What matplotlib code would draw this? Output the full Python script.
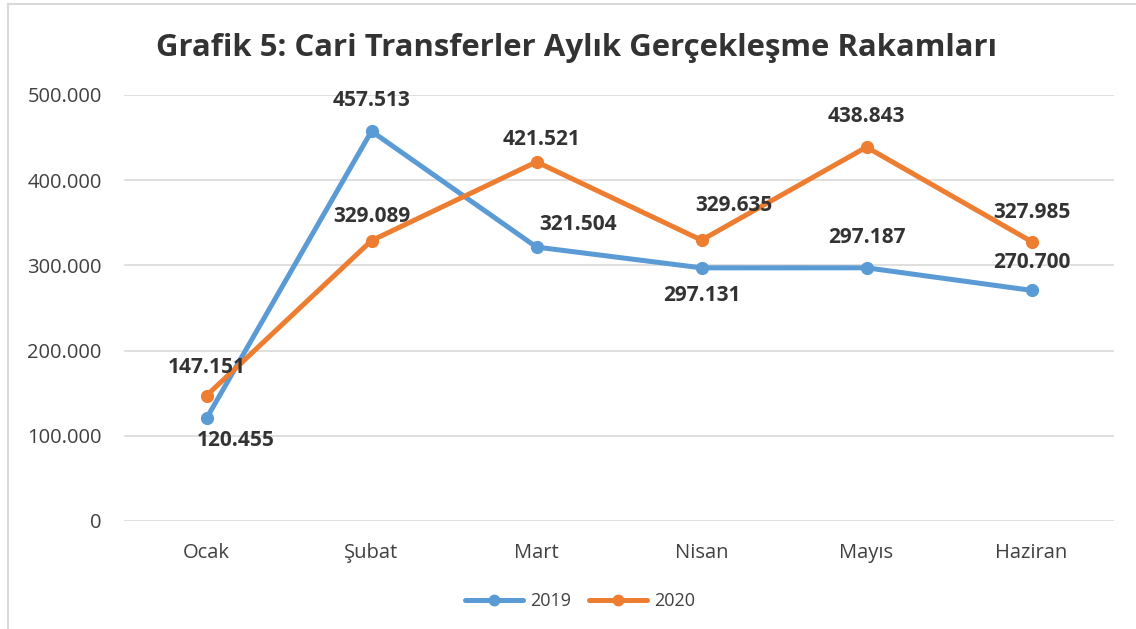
import matplotlib
matplotlib.use("Agg")
import matplotlib.pyplot as plt
from matplotlib.lines import Line2D

months = ["Ocak", "Şubat", "Mart", "Nisan", "Mayıs", "Haziran"]
values_2019 = [120455, 457513, 321504, 297131, 297187, 270700]
values_2020 = [147151, 329089, 421521, 329635, 438843, 327985]
labels_2019 = ["120.455", "457.513", "321.504", "297.131", "297.187", "270.700"]
labels_2020 = ["147.151", "329.089", "421.521", "329.635", "438.843", "327.985"]
yticks = [0, 100000, 200000, 300000, 400000, 500000]
ytick_labels = ["0", "100.000", "200.000", "300.000", "400.000", "500.000"]
title = "Grafik 5: Cari Transferler Aylık Gerçekleşme Rakamları"

plt.rcParams['font.family'] = ['Open Sans', 'DejaVu Sans']

blue = "#5B9BD5"
orange = "#ED7D31"
text_c = "#404040"
dark = "#333333"

fig = plt.figure(figsize=(11.36, 6.29), dpi=100)
ax = fig.add_axes([124/1136, 1-521/629, 990/1136, 426/629])

x = list(range(len(months)))
ax.plot(x, values_2019, color=blue, lw=3.6, marker="o", ms=8.5, solid_capstyle="round", zorder=3)
ax.plot(x, values_2020, color=orange, lw=3.6, marker="o", ms=8.5, solid_capstyle="round", zorder=3)

ax.set_xlim(-0.5, 5.5)
ax.set_ylim(0, 500000)
ax.set_yticks(yticks)
ax.set_yticklabels(ytick_labels)
ax.set_xticks(x)
ax.set_xticklabels(months)
ax.tick_params(axis="both", length=0, labelsize=14.5, colors=text_c)
ax.tick_params(axis="y", pad=16)
ax.tick_params(axis="x", pad=16)
ax.grid(axis="y", color="#D9D9D9", lw=1.2)
ax.set_axisbelow(True)
for s in ax.spines.values():
    s.set_visible(False)

# offsets in points (dx, dy) for labels
off_2019 = [(21, -16), (0, 22), (30, 16), (0, -20), (0, 21.5), (0, 20)]
off_2020 = [(0, 20), (0, 17.5), (4, 16), (23, 25), (0, 22), (0, 21)]
for i in x:
    ax.annotate(labels_2019[i], (i, values_2019[i]), xytext=off_2019[i], textcoords="offset points",
                ha="center", va="center", fontsize=15, fontweight="bold", color=dark, zorder=5)
    ax.annotate(labels_2020[i], (i, values_2020[i]), xytext=off_2020[i], textcoords="offset points",
                ha="center", va="center", fontsize=15, fontweight="bold", color=dark, zorder=5)

fig.text(576/1136, 1-48/629, title, ha="center", va="center", fontsize=22.4, fontweight="bold", color=dark)

handles = [Line2D([0], [0], color=blue, lw=3.6, marker="o", ms=7.5, solid_capstyle="round"),
           Line2D([0], [0], color=orange, lw=3.6, marker="o", ms=7.5, solid_capstyle="round")]
fig.legend(handles, ["2019", "2020"], loc="center", bbox_to_anchor=(580/1136, 1-601/629), ncol=2,
           frameon=False, fontsize=13, handlelength=3.2, columnspacing=1.0, handletextpad=0.4,
           labelcolor=text_c)

# outer border lines (left and top)
fig.add_artist(Line2D([7.5/1136, 7.5/1136], [0, 1-3.5/629], color="#D9D9D9", lw=1.5, transform=fig.transFigure))
fig.add_artist(Line2D([7.5/1136, 1], [1-3.5/629, 1-3.5/629], color="#D9D9D9", lw=1.5, transform=fig.transFigure))

fig.savefig("out.png", dpi=100, facecolor="white")
